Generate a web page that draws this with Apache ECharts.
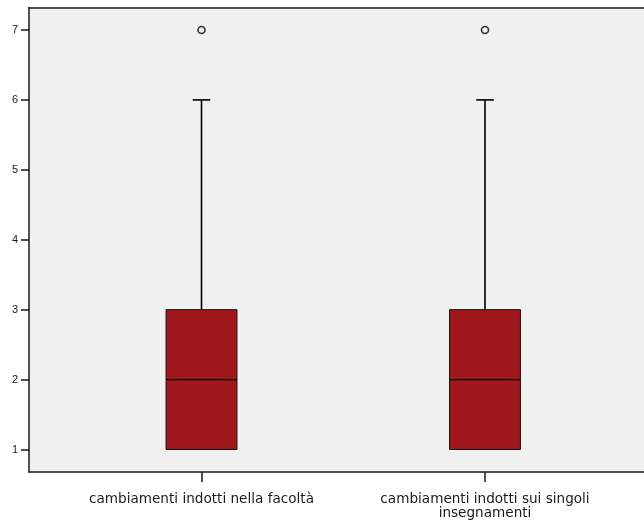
<!DOCTYPE html>
<html>
<head>
<meta charset="utf-8">
<script src="https://cdn.jsdelivr.net/npm/echarts@6/dist/echarts.min.js"></script>
<style>
html,body{margin:0;padding:0;background:#fff;}
#chart{width:644px;height:523px;}
</style>
</head>
<body>
<div id="chart"></div>
<script>
const categories = ['cambiamenti indotti nella facoltà', 'cambiamenti indotti sui singoli\ninsegnamenti'];
const whiskerLow = [1, 1];
const q1Values = [1, 1];
const medianValues = [2, 2];
const q3Values = [3, 3];
const whiskerHigh = [6, 6];
const outliers = [[0, 7], [1, 7]];
const yTicks = [1, 2, 3, 4, 5, 6, 7];

const boxData = categories.map((c, i) => [i, whiskerLow[i], q1Values[i], medianValues[i], q3Values[i], whiskerHigh[i]]);

const yMin = 0.678, yMax = 7.322;
const chart = echarts.init(document.getElementById('chart'), null, {renderer: 'canvas'});

function renderBox(params, api) {
  const idx = api.value(0);
  const band = api.size([1, 0])[0];
  const halfBox = band * 0.125;
  const halfCap = band * 0.031;
  const pLow = api.coord([idx, api.value(1)]);
  const pQ1 = api.coord([idx, api.value(2)]);
  const pMed = api.coord([idx, api.value(3)]);
  const pQ3 = api.coord([idx, api.value(4)]);
  const pHigh = api.coord([idx, api.value(5)]);
  const cx = pQ1[0];
  const lineStyle = {stroke: '#000', lineWidth: 1.6, fill: null};
  const children = [];
  if (api.value(5) > api.value(4)) {
    children.push({type: 'line', shape: {x1: cx, y1: pQ3[1], x2: cx, y2: pHigh[1]}, style: lineStyle});
    children.push({type: 'line', shape: {x1: cx - halfCap, y1: pHigh[1], x2: cx + halfCap, y2: pHigh[1]}, style: lineStyle});
  }
  if (api.value(1) < api.value(2)) {
    children.push({type: 'line', shape: {x1: cx, y1: pQ1[1], x2: cx, y2: pLow[1]}, style: lineStyle});
    children.push({type: 'line', shape: {x1: cx - halfCap, y1: pLow[1], x2: cx + halfCap, y2: pLow[1]}, style: lineStyle});
  }
  children.push({type: 'rect', shape: {x: cx - halfBox, y: pQ3[1], width: halfBox * 2, height: pQ1[1] - pQ3[1]},
    style: {fill: '#a1181c', stroke: '#111', lineWidth: 1}});
  children.push({type: 'line', shape: {x1: cx - halfBox, y1: pMed[1], x2: cx + halfBox, y2: pMed[1]},
    style: {stroke: '#000', lineWidth: 1.3}});
  return {type: 'group', children: children};
}

const frameLine = {show: true, lineStyle: {color: '#1a1a1a', width: 1.5}};

const option = {
  backgroundColor: '#ffffff',
  animation: false,
  grid: [
    {left: 29, top: 7.5, right: 0, bottom: 51, show: true, backgroundColor: '#f0f0f0', borderWidth: 0},
    {left: 59.75, top: 7.5, right: 17.25, bottom: 51}
  ],
  xAxis: [
    {type: 'value', gridIndex: 0, min: 0, max: 1, position: 'bottom',
      axisLine: frameLine, axisTick: {show: false}, axisLabel: {show: false}, splitLine: {show: false}},
    {type: 'category', gridIndex: 1, data: categories, boundaryGap: true,
      axisLine: {show: false},
      axisTick: {show: true, alignWithLabel: true, length: 10, inside: false, lineStyle: {color: '#1a1a1a', width: 1.5}},
      axisLabel: {show: true, margin: 20, interval: 0, fontFamily: 'DejaVu Sans', fontSize: 13.6, lineHeight: 14, color: '#1a1a1a', align: 'center'},
      splitLine: {show: false}},
    {type: 'value', gridIndex: 0, min: 0, max: 1, position: 'top',
      axisLine: frameLine, axisTick: {show: false}, axisLabel: {show: false}, splitLine: {show: false}}
  ],
  yAxis: [
    {type: 'value', gridIndex: 0, min: yMin, max: yMax,
      axisLine: frameLine,
      axisTick: {show: true, length: 8, customValues: yTicks, lineStyle: {color: '#1a1a1a', width: 1.5}},
      axisLabel: {show: true, margin: 11, customValues: yTicks, fontFamily: 'Liberation Sans', fontSize: 11, color: '#1a1a1a',
        formatter: v => String(Math.round(v))},
      splitLine: {show: false}},
    {type: 'value', gridIndex: 1, min: yMin, max: yMax, show: false, splitLine: {show: false}}
  ],
  series: [
    {type: 'custom', xAxisIndex: 1, yAxisIndex: 1, data: boxData, renderItem: renderBox,
      encode: {x: 0, y: [1, 2, 3, 4, 5]}, clip: false},
    {type: 'scatter', xAxisIndex: 1, yAxisIndex: 1, data: outliers, symbol: 'circle', symbolSize: 7,
      itemStyle: {color: '#f0f0f0', borderColor: '#000', borderWidth: 1.6}, z: 5}
  ]
};
chart.setOption(option);
</script>
</body>
</html>
